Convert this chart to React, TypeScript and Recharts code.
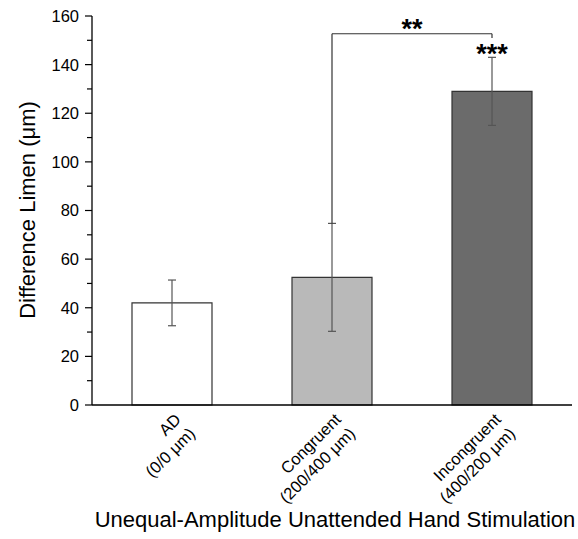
import { Bar, BarChart, Cell, ErrorBar, ReferenceDot, ReferenceLine, XAxis, YAxis } from "recharts";

// conditions, two-line tick labels
const categories = ["AD", "Congruent", "Incongruent"];
const subLabels = ["(0/0 μm)", "(200/400 μm)", "(400/200 μm)"];
// difference limen means and error (μm)
const means = [42, 52.5, 129];
const errors = [9.4, 22.2, 14];
const fills = ["#ffffff", "#b9b9b9", "#6b6b6b"];
const yTicks = [0, 10, 20, 30, 40, 50, 60, 70, 80, 90, 100, 110, 120, 130, 140, 150, 160];
// significance bracket between Congruent and Incongruent
const bracketLow = 74.7;
const bracketTop = 152.7;
const bracketRightEnd = 151;
const starsY = 144.6;

const data = categories.map((c, i) => ({ name: c, mean: means[i], err: errors[i] }));
const FONT = "'Liberation Sans', Arial, sans-serif";

function YTick({ x, y, payload }: any) {
  const major = payload.value % 20 === 0;
  return (
    <g>
      <line x1={x - (major ? 7 : 5)} x2={x} y1={y} y2={y} stroke="#000" strokeWidth={1.2} />
      {major && (
        <text x={x - 13} y={y} dy="0.36em" textAnchor="end" fontSize={16.5} fontFamily={FONT} fill="#000">
          {payload.value}
        </text>
      )}
    </g>
  );
}

function XTick({ x, y, payload, index }: any) {
  return (
    <g transform={`translate(${x},${y}) rotate(-45)`}>
      <text x={-4} y={18} textAnchor="end" fontSize={16.5} fontFamily={FONT} fill="#000">{payload.value}</text>
      <text x={-4} y={38} textAnchor="end" fontSize={16.5} fontFamily={FONT} fill="#000">{subLabels[index]}</text>
    </g>
  );
}

export default function App() {
  return (
    <div style={{ position: "absolute", left: 0, top: 0, background: "#fff" }}>
      <BarChart width={578} height={539} data={data} margin={{ top: 16, right: 6, bottom: 0, left: 0 }} barCategoryGap="25%">
        <XAxis
          dataKey="name"
          height={134}
          tickLine={false}
          tickSize={0}
          tickMargin={0}
          interval={0}
          axisLine={{ stroke: "#000", strokeWidth: 1.3 }}
          tick={<XTick />}
          label={{
            content: () => (
              <text x={335} y={527} textAnchor="middle" fontSize={22} fontFamily={FONT} fill="#000">
                Unequal-Amplitude Unattended Hand Stimulation
              </text>
            ),
          }}
        />
        <YAxis
          width={92}
          domain={[0, 160]}
          ticks={yTicks}
          interval={0}
          tickLine={false}
          tickSize={0}
          tickMargin={0}
          axisLine={{ stroke: "#000", strokeWidth: 1.3 }}
          tick={<YTick />}
          label={{
            content: () => (
              <text x={27} y={210} transform="rotate(-90 27 210)" textAnchor="middle" dominantBaseline="central" fontSize={22} fontFamily={FONT} fill="#000">
                Difference Limen (μm)
              </text>
            ),
          }}
        />
        <Bar dataKey="mean" stroke="#333" strokeWidth={1.2} isAnimationActive={false}>
          {data.map((d, i) => <Cell key={d.name} fill={fills[i]} />)}
          <ErrorBar dataKey="err" width={4} stroke="#555" strokeWidth={1.2} isAnimationActive={false} />
        </Bar>
        <ReferenceLine segment={[{ x: "Congruent", y: bracketLow }, { x: "Congruent", y: bracketTop }]} stroke="#333" strokeWidth={1.2} />
        <ReferenceLine
          segment={[{ x: "Congruent", y: bracketTop }, { x: "Incongruent", y: bracketTop }]}
          stroke="#333"
          strokeWidth={1.2}
          label={{ value: "**", position: "top", offset: -4, fontSize: 27, fontWeight: "bold", fill: "#000", fontFamily: FONT }}
        />
        <ReferenceLine segment={[{ x: "Incongruent", y: bracketTop }, { x: "Incongruent", y: bracketRightEnd }]} stroke="#333" strokeWidth={1.2} />
        <ReferenceDot
          x="Incongruent"
          y={starsY}
          r={1}
          fill="none"
          stroke="none"
          label={{ value: "***", position: "center", fontSize: 27, fontWeight: "bold", fill: "#000", fontFamily: FONT }}
        />
      </BarChart>
    </div>
  );
}
